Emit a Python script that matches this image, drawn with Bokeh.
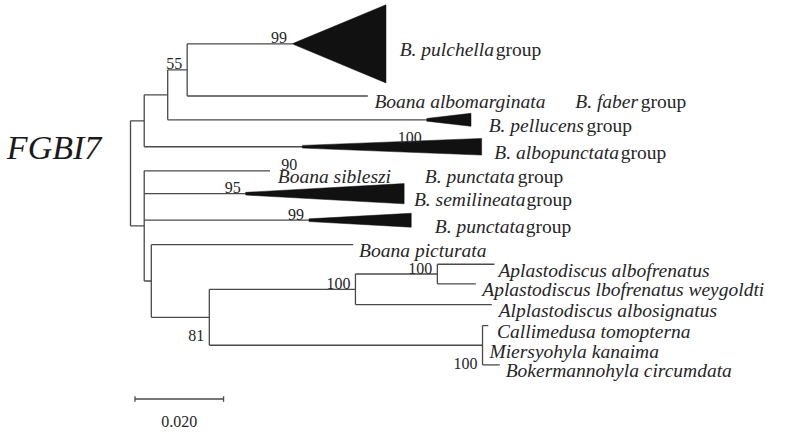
import numpy as np
from bokeh.plotting import figure
from bokeh.models import Range1d, ColumnDataSource
from bokeh.embed import file_html
from bokeh.resources import INLINE
from bokeh.core.properties import value

# ---------------- data ----------------
# tree topology: node, parent, branch length (substitutions / site)
node_names = ["root", "U", "V", "W", "pulchella", "albomarginata", "pellucens",
              "albopunctata", "L", "sibleszi", "semilineata", "punctata", "M",
              "picturata", "N", "O", "P", "albofrenatus", "weygoldti",
              "albosignatus", "Q", "callimedusa", "miersyohyla", "bokermannohyla"]
node_parents = [None, "root", "U", "V", "W", "W", "V", "U", "root", "L", "L", "L", "L",
                "M", "M", "N", "O", "P", "P", "O", "N", "Q", "Q", "Q"]
branch_lengths = [0.0, 0.0031, 0.0053, 0.0044, 0.0237, 0.0408, 0.0585, 0.0357,
                  0.0031, 0.0284, 0.0229, 0.0372, 0.0016, 0.0456, 0.0131, 0.0330,
                  0.0185, 0.0129, 0.0087, 0.0308, 0.0617, 0.0013, 0.0, 0.0039]

# vertical order of the terminal rows
tip_names = ["pulchella", "albomarginata", "pellucens", "albopunctata", "sibleszi",
             "semilineata", "punctata", "picturata", "albofrenatus", "weygoldti",
             "albosignatus", "callimedusa", "miersyohyla", "bokermannohyla"]
tip_rows = [1.93, 4.25, 5.31, 6.51, 7.58, 8.60, 9.78, 10.87, 11.74, 12.61, 13.54,
            14.47, 15.34, 16.22]

# collapsed (compressed) clades: depth and half-height in rows
clade_names = ["pulchella", "pellucens", "albopunctata", "semilineata", "punctata"]
clade_depths = [0.0212, 0.0100, 0.0405, 0.0358, 0.0231]
clade_half_rows = [1.74, 0.29, 0.37, 0.45, 0.31]

# bootstrap support
support_nodes = ["pulchella", "W", "pellucens", "albopunctata", "semilineata",
                 "punctata", "P", "O", "N", "Q"]
support_values = [99, 55, 100, 90, 95, 99, 100, 100, 81, 100]

# labels (italic part, roman part)
label_names = ["pulchella", "albomarginata", "pellucens", "albopunctata", "sibleszi",
               "semilineata", "punctata", "picturata", "albofrenatus", "weygoldti",
               "albosignatus", "callimedusa", "miersyohyla", "bokermannohyla"]
label_italic = ["B. pulchella", "Boana albomarginata", "B. pellucens", "B. albopunctata",
                "Boana sibleszi", "B. semilineata", "B. punctata", "Boana picturata",
                "Aplastodiscus albofrenatus", "Aplastodiscus lbofrenatus weygoldti",
                "Alplastodiscus albosignatus", "Callimedusa tomopterna",
                "Miersyohyla kanaima", "Bokermannohyla circumdata"]
label_roman = ["group", "", "group", "group", "", "group", "group", "", "", "", "", "", "", ""]
extra_names = ["albomarginata", "sibleszi"]
extra_italic = ["B. faber", "B. punctata"]
extra_roman = ["group", "group"]

title_text = "FGBI7"
scale_value = 0.020
scale_text = "0.020"

# ---------------- layout / style ----------------
W, H = 770, 431
REF_W, REF_H = 786, 447          # drawing space the layout is measured in
PX = 90.4 / scale_value          # drawing pixels per substitution unit
ROW = 23.3                       # drawing pixels per row
x0 = -132.7 / PX
x1 = x0 + REF_W / PX
LINE = "#4a4a4a"
TXT = "#262626"
SERIF = value("Liberation Serif")

tip_gap = {"albomarginata": 6.7, "sibleszi": 8, "picturata": 6, "albofrenatus": 4,
           "weygoldti": 6.5, "albosignatus": 7, "callimedusa": 9, "miersyohyla": 7,
           "bokermannohyla": 6, "pulchella": 14, "pellucens": 18, "albopunctata": 13,
           "semilineata": 10, "punctata": 24}
roman_shift = {"pulchella": 98, "pellucens": 100, "albopunctata": 129,
               "semilineata": 115, "punctata": 93}
extra_shift = {"albomarginata": (205, 67), "sibleszi": (150, 95)}
below = {"pellucens", "albopunctata", "N", "Q"}

# ---------------- tree layout ----------------
parent_of = dict(zip(node_names, node_parents))
length_of = dict(zip(node_names, branch_lengths))
children = {n: [] for n in node_names}
for n, par in zip(node_names, node_parents):
    if par is not None:
        children[par].append(n)

xpos = {}
for n in node_names:
    par = parent_of[n]
    xpos[n] = 0.0 if par is None else xpos[par] + length_of[n]

ypos = dict(zip(tip_names, tip_rows))


def set_y(n):
    if n in ypos:
        return ypos[n]
    ys = [set_y(c) for c in children[n]]
    ypos[n] = (ys[0] + ys[-1]) / 2.0
    return ypos[n]


set_y("root")

hx0, hx1, hy = [], [], []
for n in node_names:
    par = parent_of[n]
    if par is None:
        continue
    hx0.append(xpos[par]); hx1.append(xpos[n]); hy.append(ypos[n])

vx, vy0, vy1 = [], [], []
for n in node_names:
    if children[n]:
        vx.append(xpos[n]); vy0.append(ypos[children[n][0]]); vy1.append(ypos[children[n][-1]])

p = figure(width=W, height=H, output_backend="svg", toolbar_location=None,
           x_range=Range1d(x0, x1), y_range=Range1d(REF_H / ROW, 0),
           min_border=0, outline_line_color=None)
p.axis.visible = False
p.grid.visible = False
p.background_fill_color = "white"

p.segment(x0=hx0, y0=hy, x1=hx1, y1=hy, line_color=LINE, line_width=1.3)
p.segment(x0=vx, y0=vy0, x1=vx, y1=vy1, line_color=LINE, line_width=1.3)

# collapsed clades as wedges
wxs, wys = [], []
clade_end = {}
for c, d, h in zip(clade_names, clade_depths, clade_half_rows):
    ax, ay = xpos[c], ypos[c]
    h0 = 0.0 if h > 1 else 0.06
    wxs.append([ax, ax + d, ax + d, ax])
    wys.append([ay - h0, ay - h, ay + h, ay + h0])
    clade_end[c] = ax + d
p.patches(xs=wxs, ys=wys, fill_color="#111111", line_color="#111111", line_width=0.5)

# tip labels
ix, iy, it, rx, ry, rt = [], [], [], [], [], []
for n, ital, rom in zip(label_names, label_italic, label_roman):
    end = clade_end.get(n, xpos[n])
    lx = end + tip_gap[n] / PX
    ix.append(lx); iy.append(ypos[n]); it.append(ital)
    if rom:
        rx.append(lx + roman_shift[n] / PX); ry.append(ypos[n]); rt.append(rom)
for n, ital, rom in zip(extra_names, extra_italic, extra_roman):
    end = clade_end.get(n, xpos[n])
    lx = end + tip_gap[n] / PX
    s1, s2 = extra_shift[n]
    ix.append(lx + s1 / PX); iy.append(ypos[n]); it.append(ital)
    rx.append(lx + (s1 + s2) / PX); ry.append(ypos[n]); rt.append(rom)

p.text(x=ix, y=iy, text=it, text_font=SERIF, text_font_style="italic",
       text_font_size="19.5px", text_color=TXT, text_baseline="alphabetic",
       text_align="left", y_offset=6)
p.text(x=rx, y=ry, text=rt, text_font=SERIF, text_font_size="19.5px",
       text_color=TXT, text_baseline="alphabetic", text_align="left", y_offset=6)

# bootstrap values
bx = [xpos[n] for n in support_nodes]
by = [ypos[n] for n in support_nodes]
bt = [str(v) for v in support_values]
boff = [18 if n in below else -6 for n in support_nodes]
src = ColumnDataSource(dict(x=bx, y=by, t=bt, yo=boff))
p.text(x="x", y="y", text="t", source=src, text_font=SERIF, text_font_size="16px",
       text_color=TXT, text_align="right", text_baseline="alphabetic",
       x_offset=-5, y_offset="yo")

# title-like label
p.text(x=[x0 + 6.5 / PX], y=[152 / ROW], text=[title_text], text_font=SERIF,
       text_font_style="italic", text_font_size="34px", text_color="#1a1a1a",
       text_baseline="alphabetic", text_align="left")

# scale bar
sb_x = 4.6 / PX
sb_y = 413.3 / ROW
p.segment(x0=[sb_x], y0=[sb_y], x1=[sb_x + scale_value], y1=[sb_y],
          line_color=LINE, line_width=1.3)
p.segment(x0=[sb_x, sb_x + scale_value], y0=[sb_y - 0.12, sb_y - 0.12],
          x1=[sb_x, sb_x + scale_value], y1=[sb_y + 0.12, sb_y + 0.12],
          line_color=LINE, line_width=1.3)
p.text(x=[sb_x + scale_value / 2], y=[436.5 / ROW], text=[scale_text],
       text_font=SERIF, text_font_size="16px", text_color=TXT,
       text_align="center", text_baseline="alphabetic")

open("out.html", "w").write(file_html(p, INLINE))
